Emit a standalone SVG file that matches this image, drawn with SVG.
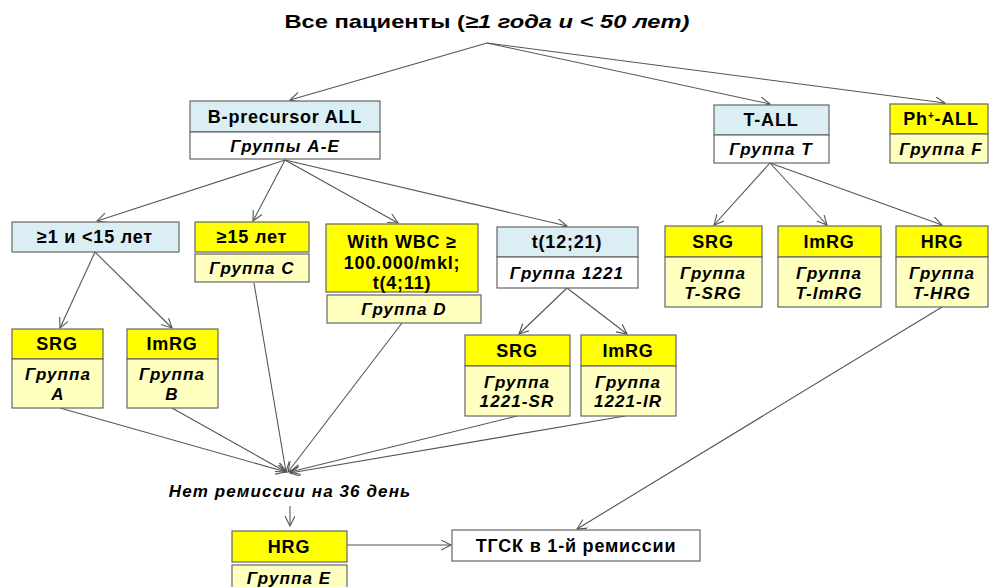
<svg xmlns="http://www.w3.org/2000/svg" width="992" height="587" viewBox="0 0 992 587">
<defs>
<marker id="ah" markerUnits="userSpaceOnUse" markerWidth="12" markerHeight="12" refX="10" refY="5" orient="auto">
<path d="M0,0 L10,5 L0,10" fill="none" stroke="#555" stroke-width="1.1"/>
</marker>
<style>
text{font-family:"Liberation Sans",Arial,sans-serif;font-weight:bold;text-anchor:middle;fill:#000}
.h{font-size:18px;letter-spacing:0.8px}
.g{font-size:17px;font-style:italic;letter-spacing:1.1px}
.b{stroke:#666;stroke-width:1.2}
.lb{fill:#DAEEF3}
.y{fill:#FFFF00}
.ly{fill:#FFFFC0}
.w{fill:#FFFFFF}
#conn line{stroke:#555;stroke-width:1.1;marker-end:url(#ah)}
</style>
</defs>
<rect width="992" height="587" fill="#fff"/>

<g id="title">
<text x="487" y="28" style="font-size:19px" textLength="405" lengthAdjust="spacingAndGlyphs">Все пациенты (<tspan font-style="italic">≥1 года и &lt; 50 лет)</tspan></text>
</g>

<g id="conn">
<line x1="487" y1="43" x2="290" y2="100"/>
<line x1="487" y1="43" x2="770" y2="104"/>
<line x1="487" y1="43" x2="945" y2="103"/>
<line x1="285" y1="160" x2="97" y2="221"/>
<line x1="285" y1="160" x2="253" y2="221"/>
<line x1="285" y1="160" x2="398" y2="223"/>
<line x1="285" y1="160" x2="567" y2="226"/>
<line x1="95" y1="252" x2="60" y2="328"/>
<line x1="95" y1="252" x2="172" y2="328"/>
<line x1="567" y1="288" x2="519" y2="334"/>
<line x1="567" y1="288" x2="627" y2="334"/>
<line x1="770" y1="163" x2="714" y2="225"/>
<line x1="770" y1="163" x2="827" y2="225"/>
<line x1="770" y1="163" x2="942" y2="225"/>
<line x1="60" y1="408" x2="286" y2="472"/>
<line x1="172" y1="408" x2="286" y2="472"/>
<line x1="254" y1="283" x2="286" y2="472"/>
<line x1="402" y1="323" x2="288" y2="472"/>
<line x1="517" y1="416" x2="290" y2="472"/>
<line x1="625" y1="416" x2="290" y2="473"/>
<line x1="290" y1="506" x2="290" y2="526"/>
<line x1="347" y1="545" x2="451" y2="545"/>
<line x1="942" y1="307" x2="577" y2="529"/>
</g>

<g id="bprec">
<rect class="b lb" x="190" y="101" width="190" height="31"/>
<rect class="b w" x="190" y="132" width="190" height="27"/>
<text class="h" x="285" y="123">B-precursor ALL</text>
<text class="g" x="285" y="152">Группы A-E</text>
</g>

<g id="tall">
<rect class="b lb" x="714" y="105" width="115" height="30"/>
<rect class="b w" x="714" y="135" width="115" height="28"/>
<text class="h" x="771" y="126">T-ALL</text>
<text class="g" x="771" y="155">Группа T</text>
</g>

<g id="phall">
<rect class="b y" x="890" y="104" width="98" height="30"/>
<rect class="b ly" x="890" y="134" width="98" height="29"/>
<text class="h" x="941" y="125">Ph<tspan dy="-6" font-size="10">+</tspan><tspan dy="6">-ALL</tspan></text>
<text class="g" x="941" y="155">Группа F</text>
</g>

<g id="age1_15">
<rect class="b lb" x="12" y="222" width="167" height="30"/>
<text class="h" x="95" y="243">≥1 и &lt;15 лет</text>
</g>

<g id="age15">
<rect class="b y" x="195" y="222" width="114" height="30"/>
<rect class="b ly" x="195" y="254" width="114" height="28"/>
<text class="h" x="252" y="243">≥15 лет</text>
<text class="g" x="252" y="274">Группа C</text>
</g>

<g id="wbc">
<rect class="b y" x="326" y="224" width="152" height="68"/>
<rect class="b ly" x="327" y="295" width="154" height="28"/>
<text class="h" x="402" y="248">With WBC ≥</text>
<text class="h" x="402" y="269">100.000/mkl;</text>
<text class="h" x="402" y="289">t(4;11)</text>
<text class="g" x="404" y="315">Группа D</text>
</g>

<g id="t1221">
<rect class="b lb" x="497" y="227" width="141" height="30"/>
<rect class="b w" x="497" y="257" width="141" height="31"/>
<text class="h" x="567" y="248">t(12;21)</text>
<text class="g" x="567" y="279">Группа 1221</text>
</g>

<g id="tsrg">
<rect class="b y" x="665" y="226" width="97" height="31"/>
<rect class="b ly" x="665" y="257" width="97" height="50"/>
<text class="h" x="713" y="248">SRG</text>
<text class="g" x="713" y="279">Группа</text>
<text class="g" x="713" y="299">T-SRG</text>
</g>

<g id="timrg">
<rect class="b y" x="778" y="226" width="103" height="31"/>
<rect class="b ly" x="778" y="257" width="103" height="50"/>
<text class="h" x="829" y="248">ImRG</text>
<text class="g" x="829" y="279">Группа</text>
<text class="g" x="829" y="299">T-ImRG</text>
</g>

<g id="thrg">
<rect class="b y" x="896" y="226" width="92" height="31"/>
<rect class="b ly" x="896" y="257" width="92" height="50"/>
<text class="h" x="942" y="248">HRG</text>
<text class="g" x="942" y="279">Группа</text>
<text class="g" x="942" y="299">T-HRG</text>
</g>

<g id="srgA">
<rect class="b y" x="12" y="329" width="91" height="30"/>
<rect class="b ly" x="12" y="359" width="91" height="49"/>
<text class="h" x="57" y="350">SRG</text>
<text class="g" x="58" y="380">Группа</text>
<text class="g" x="58" y="400">A</text>
</g>

<g id="imrgB">
<rect class="b y" x="127" y="329" width="91" height="30"/>
<rect class="b ly" x="127" y="359" width="91" height="49"/>
<text class="h" x="172" y="350">ImRG</text>
<text class="g" x="172" y="380">Группа</text>
<text class="g" x="172" y="400">B</text>
</g>

<g id="srg1221">
<rect class="b y" x="465" y="335" width="105" height="31"/>
<rect class="b ly" x="465" y="366" width="105" height="50"/>
<text class="h" x="517" y="357">SRG</text>
<text class="g" x="517" y="388">Группа</text>
<text class="g" x="517" y="407">1221-SR</text>
</g>

<g id="imrg1221">
<rect class="b y" x="581" y="335" width="95" height="31"/>
<rect class="b ly" x="581" y="366" width="95" height="50"/>
<text class="h" x="628" y="357">ImRG</text>
<text class="g" x="628" y="388">Группа</text>
<text class="g" x="628" y="407">1221-IR</text>
</g>

<g id="noremission">
<text class="g" x="290" y="497">Нет ремиссии на 36 день</text>
</g>

<g id="hrgE">
<rect class="b y" x="232" y="531" width="115" height="31"/>
<rect class="b ly" x="232" y="565" width="115" height="30"/>
<text class="h" x="289" y="553">HRG</text>
<text class="g" x="289" y="584">Группа E</text>
</g>

<g id="tgsk">
<rect class="b w" x="452" y="530" width="248" height="31"/>
<text class="h" x="576" y="552">ТГСК в 1-й ремиссии</text>
</g>
</svg>
